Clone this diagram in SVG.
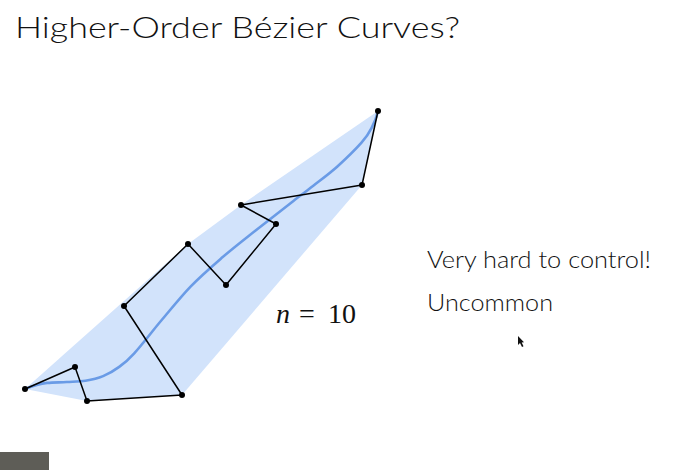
<svg xmlns="http://www.w3.org/2000/svg" width="683" height="470" viewBox="0 0 683 470">
<style>
.title{font-family:Lato,"Noto Sans","Liberation Sans",sans-serif;font-weight:300;font-size:30px;fill:#111}
.body{font-family:Lato,"Noto Sans","Liberation Sans",sans-serif;font-weight:300;font-size:24px;fill:#111}
.math{font-family:"Liberation Serif","DejaVu Serif",serif;font-size:28px;fill:#111}
.poly{fill:none;stroke:#000;stroke-width:1.5;stroke-linejoin:round}
.curve{fill:none;stroke:#6a9be6;stroke-width:2.6;stroke-linejoin:round;stroke-linecap:round}
.pt{fill:#000}
</style>
<rect width="683" height="470" fill="#fff"/>
<text class="title" x="15" y="38" textLength="445" lengthAdjust="spacingAndGlyphs">Higher-Order Bézier Curves?</text>
<g id="hull"><polygon points="25,389 87,401 182,395 362,185 378,111 241,205 188,244" fill="#d2e3fb"/></g>
<g id="curve"><path class="curve" d="M25,389 C29.2,387.2 33,385.9 36.7,384.9 C40.4,383.9 43.8,383.2 47.1,382.9 C53.8,382.3 60.4,382.4 66.8,382 C73.2,381.6 79.5,381.7 85.5,380.7 C91.6,379.7 97.5,378.4 103.1,376.1 C108.7,373.8 114.1,370.7 119.2,366.9 C124.4,363.2 129.3,358.8 134,353.6 C143.4,343.2 152.2,331.2 161.7,320 C171.2,308.8 180.7,296.8 190.8,286.3 C200.9,275.9 211.7,266.6 222.4,257.3 C233.2,248 243.7,239.9 255.3,230.7 C266.9,221.5 278.9,212.2 291.8,202.2 C298.2,197.2 305.7,191.7 313.3,185.7 C320.9,179.8 329.4,173.7 337.4,166.5 C345.4,159.3 353.9,151.2 361.5,142.7 C365.3,138.4 368.8,133.4 371.5,128.1 C374.3,122.8 376.7,117.2 378,111"/></g>
<g id="connectors"><polyline class="poly" points="25,389 75,367 87,401 182,395 124,306 188,244 226,285 276,224 241,205 362,185 378,111"/></g>
<g id="points">
<circle class="pt" cx="25" cy="389" r="3"/>
<circle class="pt" cx="75" cy="367" r="3"/>
<circle class="pt" cx="87" cy="401" r="3"/>
<circle class="pt" cx="182" cy="395" r="3"/>
<circle class="pt" cx="124" cy="306" r="3"/>
<circle class="pt" cx="188" cy="244" r="3"/>
<circle class="pt" cx="226" cy="285" r="3"/>
<circle class="pt" cx="276" cy="224" r="3"/>
<circle class="pt" cx="241" cy="205" r="3"/>
<circle class="pt" cx="362" cy="185" r="3"/>
<circle class="pt" cx="378" cy="111" r="3"/>
</g>
<g id="label-n">
<text class="math" x="276" y="323" font-style="italic">n</text>
<text class="math" x="299" y="323">=</text>
<text class="math" x="328" y="323">10</text>
</g>
<g id="notes">
<text class="body" x="427" y="268" textLength="224" lengthAdjust="spacingAndGlyphs">Very hard to control!</text>
<text class="body" x="427" y="311" textLength="126" lengthAdjust="spacingAndGlyphs">Uncommon</text>
</g>
<polygon points="518,336 518,345 520,343 522,347 523.5,346.3 521.7,342.5 524,342.3" fill="#111"/>
<rect x="0" y="452" width="49" height="18" fill="#5e5d57"/>
</svg>
